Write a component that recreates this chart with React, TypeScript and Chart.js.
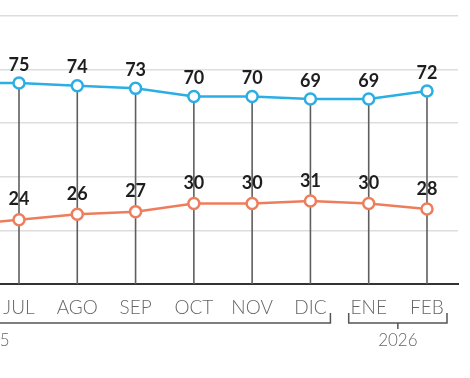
import React, { useEffect, useRef } from 'react';
import { Chart, registerables } from 'chart.js';

Chart.register(...registerables);

// Data (JUN is the previous month, just off the left edge of the visible area)
const months = ['JUN', 'JUL', 'AGO', 'SEP', 'OCT', 'NOV', 'DIC', 'ENE', 'FEB'];
const approve = [75, 75, 74, 73, 70, 70, 69, 69, 72];
const disapprove = [22, 24, 26, 27, 30, 30, 31, 30, 28];
const yearLabels = ['2025', '2026'];
const yearFirstIdx = [-5, 7];
const yearLastIdx = [6, 8];
const yMin = 0;
const yMax = 100;
const yStep = 20;
const xMin = 0.674;
const xMax = 8.532;

const BLUE = '#2aaee3';
const ORANGE = '#ee7d5c';

const overlayPlugin = {
  id: 'overlay',
  beforeDatasetsDraw(chart: any) {
    const { ctx, chartArea, scales } = chart;
    const xs = scales.x;
    const ys = scales.y;
    ctx.save();
    ctx.strokeStyle = '#5e5e5e';
    ctx.lineWidth = 1.6;
    approve.forEach((v, i) => {
      const x = xs.getPixelForValue(i);
      if (x < chartArea.left || x > chartArea.right) return;
      ctx.beginPath();
      ctx.moveTo(x, ys.getPixelForValue(v));
      ctx.lineTo(x, ys.getPixelForValue(yMin));
      ctx.stroke();
    });
    ctx.restore();
  },
  afterDatasetsDraw(chart: any) {
    const { ctx, chartArea, scales } = chart;
    const xs = scales.x;
    const ys = scales.y;
    ctx.save();
    ctx.fillStyle = '#1e1e1e';
    ctx.font = 'bold 18px Lato';
    ctx.textAlign = 'center';
    ctx.textBaseline = 'bottom';
    const drawLabels = (arr: number[], off: number) => {
      arr.forEach((v, i) => {
        const x = xs.getPixelForValue(i);
        if (x < chartArea.left || x > chartArea.right) return;
        ctx.fillText(String(v), x, ys.getPixelForValue(v) - off);
      });
    };
    drawLabels(approve, 9);
    drawLabels(disapprove, 11);

    // year brackets
    const by = chartArea.bottom + 39;
    ctx.strokeStyle = '#555';
    ctx.lineWidth = 1.5;
    ctx.fillStyle = '#666';
    ctx.font = '300 17px Lato';
    ctx.textBaseline = 'middle';
    yearLabels.forEach((lab, k) => {
      const x1 = xs.getPixelForValue(yearFirstIdx[k]) - 20;
      const x2 = xs.getPixelForValue(yearLastIdx[k]) + 20;
      const cx = (x1 + x2) / 2;
      ctx.beginPath();
      ctx.moveTo(x1, by - 10);
      ctx.lineTo(x1, by);
      ctx.lineTo(x2, by);
      ctx.lineTo(x2, by - 10);
      ctx.moveTo(cx, by);
      ctx.lineTo(cx, by + 6);
      ctx.stroke();
      ctx.fillText(lab, cx, by + 18);
    });
    ctx.restore();
  },
};

export default function App() {
  const ref = useRef<HTMLCanvasElement | null>(null);
  useEffect(() => {
    if (!ref.current) return;
    const chart = new Chart(ref.current, {
      type: 'line',
      data: {
        datasets: [
          {
            data: approve.map((v, i) => ({ x: i, y: v })),
            borderColor: BLUE,
            backgroundColor: '#ffffff',
            borderWidth: 2.5,
            pointRadius: 5.5,
            pointBorderWidth: 2.5,
            pointBorderColor: BLUE,
            pointBackgroundColor: '#ffffff',
            tension: 0,
          },
          {
            data: disapprove.map((v, i) => ({ x: i, y: v })),
            borderColor: ORANGE,
            backgroundColor: '#ffffff',
            borderWidth: 2.5,
            pointRadius: 5.5,
            pointBorderWidth: 2.5,
            pointBorderColor: ORANGE,
            pointBackgroundColor: '#ffffff',
            tension: 0,
          },
        ],
      },
      options: {
        animation: false,
        responsive: false,
        layout: { autoPadding: false, padding: { top: 16, right: 12, left: 0, bottom: 0 } },
        plugins: { legend: { display: false }, tooltip: { enabled: false } },
        scales: {
          x: {
            type: 'linear',
            min: xMin,
            max: xMax,
            afterBuildTicks(scale: any) {
              scale.ticks = months
                .map((_, i) => ({ value: i }))
                .filter((t) => t.value >= xMin && t.value <= xMax);
            },
            afterFit(scale: any) {
              scale.height = 94;
              scale.paddingLeft = 0;
              scale.paddingRight = 0;
            },
            grid: { display: false, drawTicks: false },
            border: { display: true, color: '#333', width: 2 },
            ticks: {
              autoSkip: false,
              maxRotation: 0,
              padding: 12,
              color: '#666',
              font: { family: 'Lato', size: 19, weight: '300' },
              callback: (v: any) => months[v] ?? '',
            },
          },
          y: {
            min: yMin,
            max: yMax,
            afterFit(scale: any) {
              scale.width = 0;
              scale.paddingTop = 0;
              scale.paddingBottom = 0;
            },
            ticks: { display: false, stepSize: yStep },
            grid: { color: '#dddddd', lineWidth: 1.5, drawTicks: false },
            border: { display: false },
          },
        },
      },
      plugins: [overlayPlugin],
    } as any);
    return () => chart.destroy();
  }, []);
  return (
    <canvas
      ref={ref}
      width={470}
      height={378}
      style={{ position: 'absolute', left: 0, top: 0, width: 470, height: 378 }}
    />
  );
}
